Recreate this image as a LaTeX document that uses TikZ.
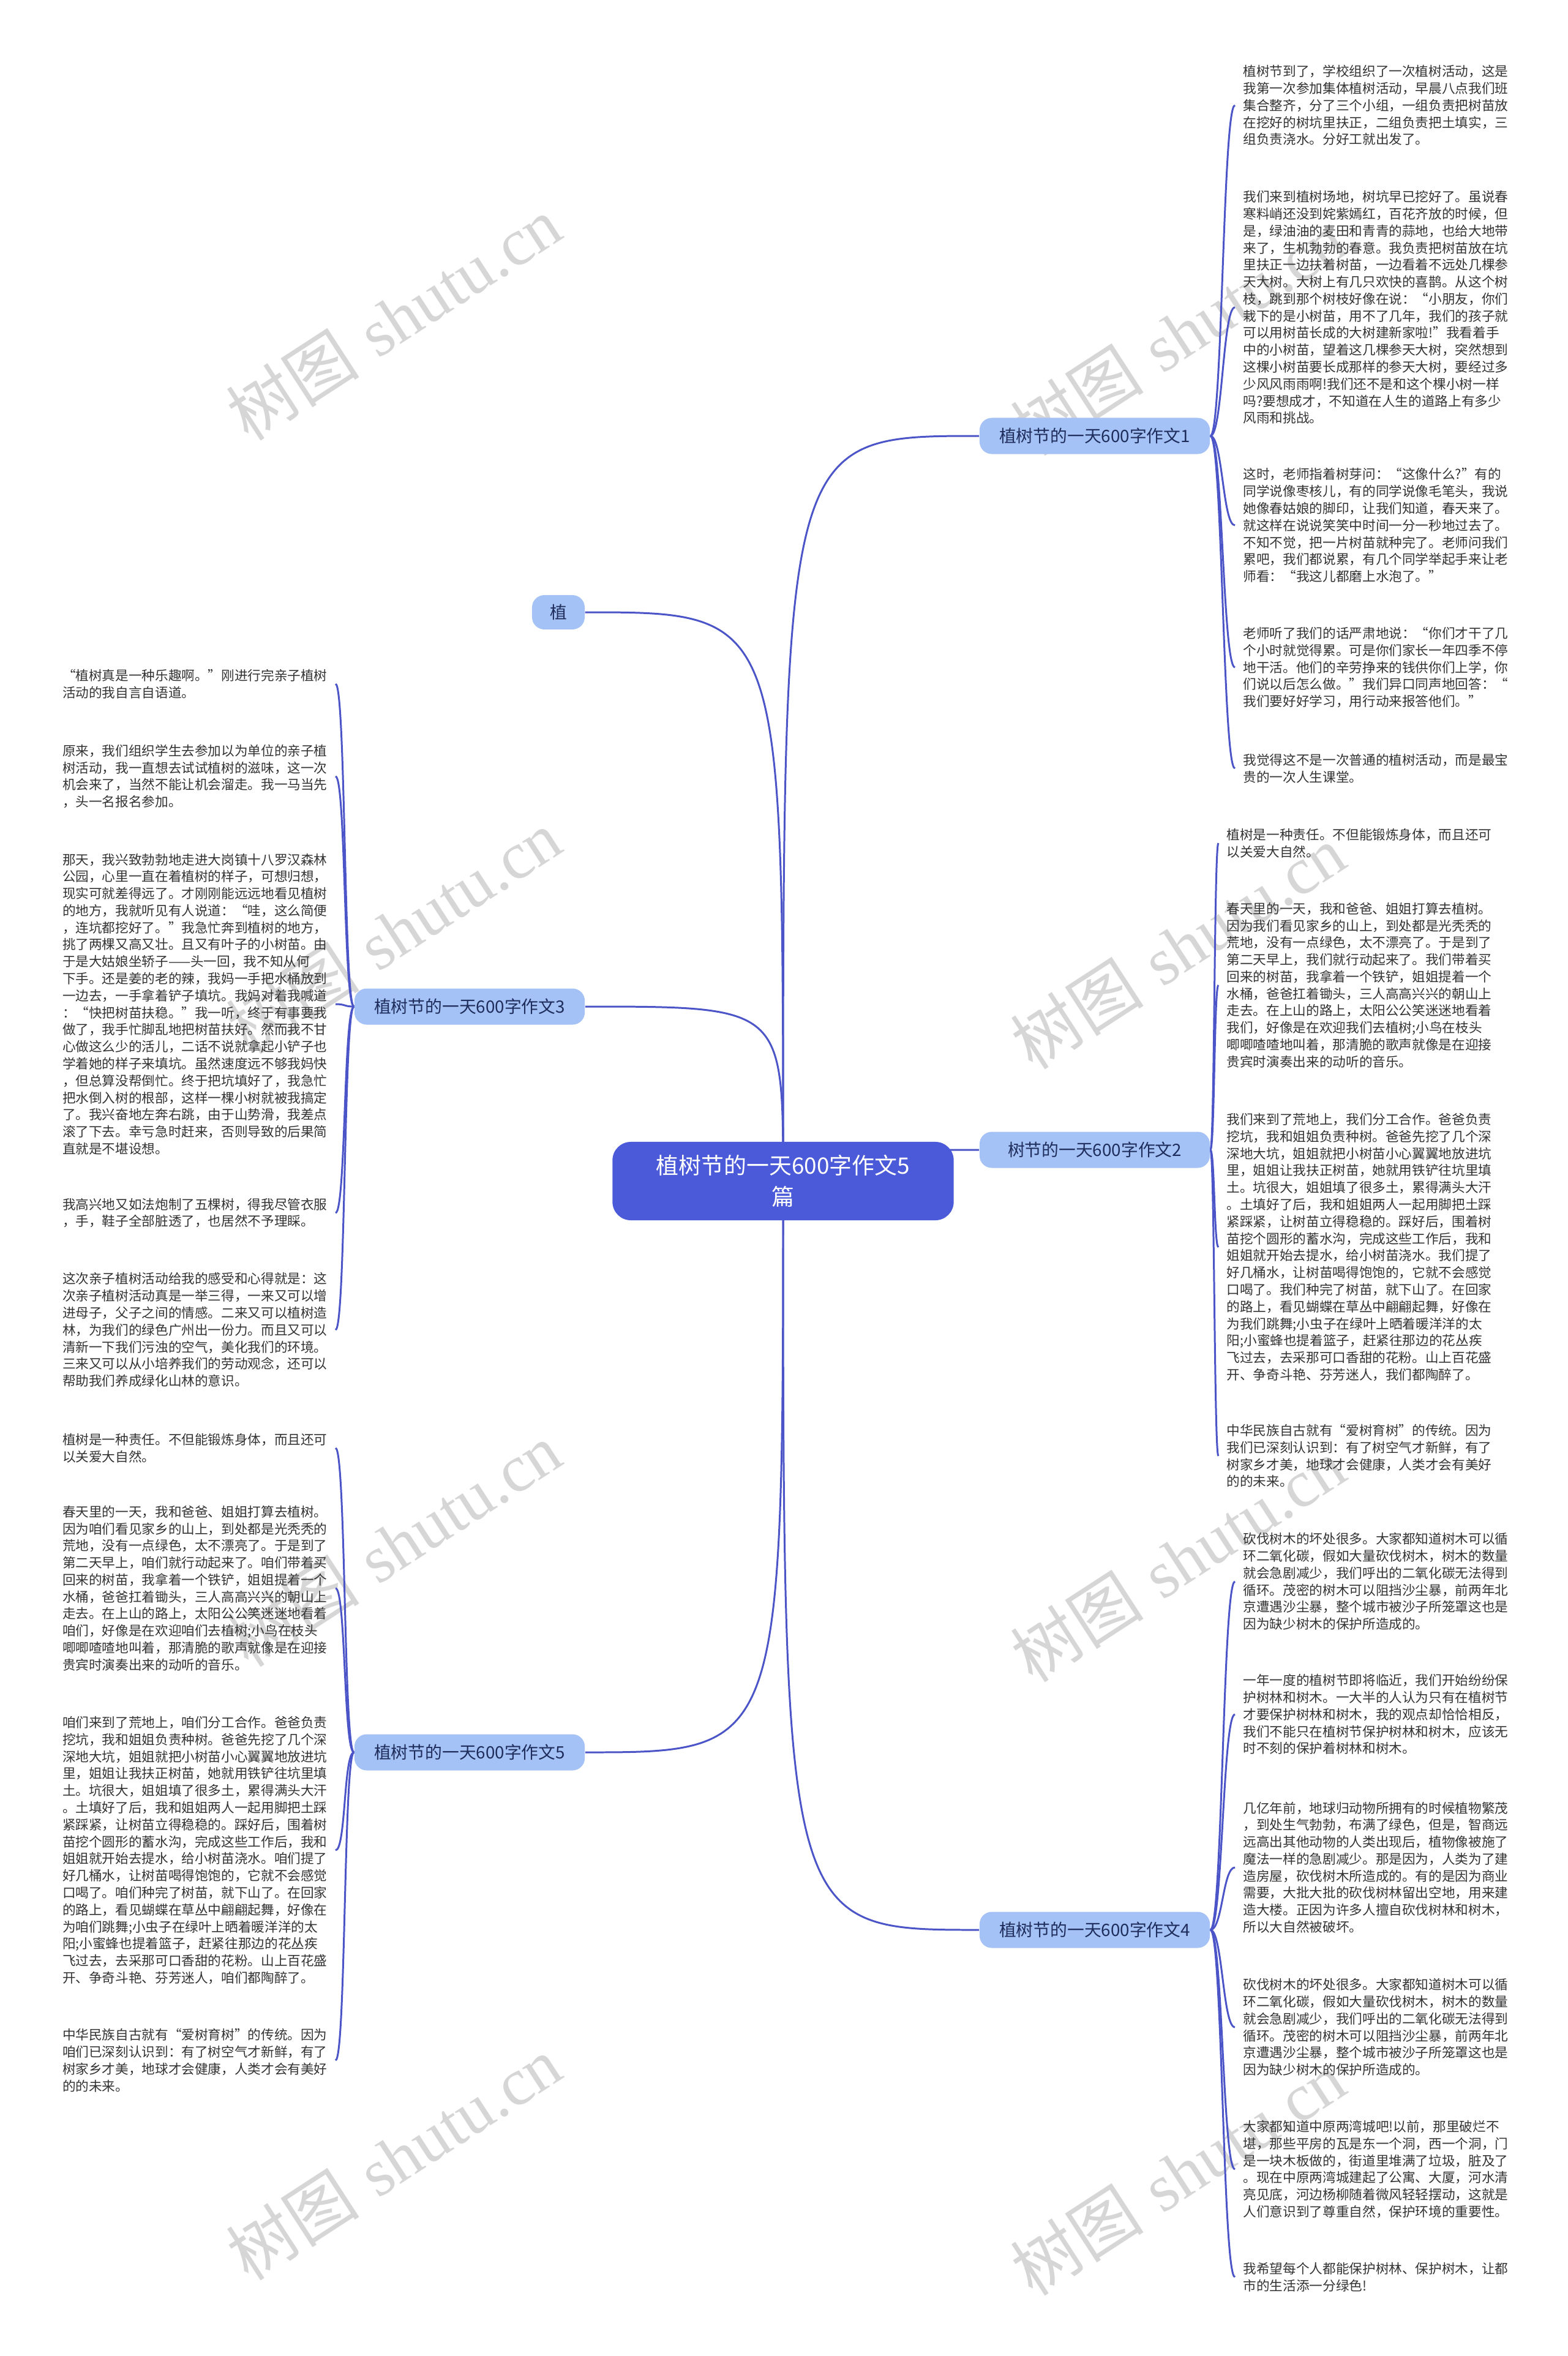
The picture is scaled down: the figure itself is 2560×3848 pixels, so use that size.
\documentclass[tikz,border=0pt]{standalone}
\usepackage{fontspec}
\newfontfamily\cjk{Noto Sans CJK SC}
\newfontfamily\wmserif{Liberation Serif}
\usetikzlibrary{backgrounds}
\definecolor{rootblue}{HTML}{4A5AD8}
\definecolor{topicfill}{HTML}{A4C2F5}
\definecolor{topictext}{HTML}{1F2D5C}
\definecolor{linkblue}{HTML}{4B55C8}
\definecolor{bodytext}{HTML}{333333}

\begin{document}
\begin{tikzpicture}[x=0.01cm,y=-0.01cm,
  root/.style={fill=rootblue,text=white,rounded corners=0.3cm,minimum width=5.57cm,minimum height=1.28cm,
    align=center,inner sep=0pt,font=\cjk\fontsize{10.5pt}{14.6pt}\selectfont},
  topic/.style={fill=topicfill,text=topictext,rounded corners=0.2cm,minimum width=3.76cm,minimum height=0.59cm,
    inner sep=0pt,font=\cjk\fontsize{7.9pt}{9pt}\selectfont},
  para/.style={text=bodytext,text width=4.32cm,align=left,inner xsep=0.13cm,inner ysep=0pt,
    font=\cjk\fontsize{6.15pt}{7.9pt}\selectfont},
  link/.style={draw=linkblue,line width=0.85pt},
  wmark/.style={text=black!16,rotate=33,font=\fontsize{31pt}{31pt}\selectfont}]
\useasboundingbox (0,0) rectangle (2560,3848);

% root and topics
\node[root] (root) at (1279,1929) {植树节的一天600字作文5\\篇};
\node[topic,minimum width=0.86cm,minimum height=0.56cm] (zhi) at (912,1000) {植};
\node[topic] (t1) at (1788,712) {植树节的一天600字作文1};
\node[topic] (t2) at (1788,1878) {树节的一天600字作文2};
\node[topic] (t3) at (767,1644) {植树节的一天600字作文3};
\node[topic] (t4) at (1788,3152) {植树节的一天600字作文4};
\node[topic] (t5) at (767,2862) {植树节的一天600字作文5};

% essay 1
\node[para,anchor=west] (r1a) at (2017,172) {植树节到了，学校组织了一次植树活动，这是\\我第一次参加集体植树活动，早晨八点我们班\\集合整齐，分了三个小组，一组负责把树苗放\\在挖好的树坑里扶正，二组负责把土填实，三\\组负责浇水。分好工就出发了。};
\node[para,anchor=west] (r1b) at (2017,502) {我们来到植树场地，树坑早已挖好了。虽说春\\寒料峭还没到姹紫嫣红，百花齐放的时候，但\\是，绿油油的麦田和青青的蒜地，也给大地带\\来了，生机勃勃的春意。我负责把树苗放在坑\\里扶正一边扶着树苗，一边看着不远处几棵参\\天大树。大树上有几只欢快的喜鹊。从这个树\\枝，跳到那个树枝好像在说：“小朋友，你们\\栽下的是小树苗，用不了几年，我们的孩子就\\可以用树苗长成的大树建新家啦!”我看着手\\中的小树苗，望着这几棵参天大树，突然想到\\这棵小树苗要长成那样的参天大树，要经过多\\少风风雨雨啊!我们还不是和这个棵小树一样\\吗?要想成才，不知道在人生的道路上有多少\\风雨和挑战。};
\node[para,anchor=west] (r1c) at (2017,858) {这时，老师指着树芽问：“这像什么?”有的\\同学说像枣核儿，有的同学说像毛笔头，我说\\她像春姑娘的脚印，让我们知道，春天来了。\\就这样在说说笑笑中时间一分一秒地过去了。\\不知不觉，把一片树苗就种完了。老师问我们\\累吧，我们都说累，有几个同学举起手来让老\\师看：“我这儿都磨上水泡了。”};
\node[para,anchor=west] (r1d) at (2017,1090) {老师听了我们的话严肃地说：“你们才干了几\\个小时就觉得累。可是你们家长一年四季不停\\地干活。他们的辛劳挣来的钱供你们上学，你\\们说以后怎么做。”我们异口同声地回答：“\\我们要好好学习，用行动来报答他们。”};
\node[para,anchor=west] (r1e) at (2017,1255) {我觉得这不是一次普通的植树活动，而是最宝\\贵的一次人生课堂。};

% essay 2
\node[para,anchor=west] (r2a) at (1990,1377) {植树是一种责任。不但能锻炼身体，而且还可\\以关爱大自然。};
\node[para,anchor=west] (r2b) at (1990,1609) {春天里的一天，我和爸爸、姐姐打算去植树。\\因为我们看见家乡的山上，到处都是光秃秃的\\荒地，没有一点绿色，太不漂亮了。于是到了\\第二天早上，我们就行动起来了。我们带着买\\回来的树苗，我拿着一个铁铲，姐姐提着一个\\水桶，爸爸扛着锄头，三人高高兴兴的朝山上\\走去。在上山的路上，太阳公公笑迷迷地看着\\我们，好像是在欢迎我们去植树;小鸟在枝头\\唧唧喳喳地叫着，那清脆的歌声就像是在迎接\\贵宾时演奏出来的动听的音乐。};
\node[para,anchor=west] (r2c) at (1990,2037) {我们来到了荒地上，我们分工合作。爸爸负责\\挖坑，我和姐姐负责种树。爸爸先挖了几个深\\深地大坑，姐姐就把小树苗小心翼翼地放进坑\\里，姐姐让我扶正树苗，她就用铁铲往坑里填\\土。坑很大，姐姐填了很多土，累得满头大汗\\。土填好了后，我和姐姐两人一起用脚把土踩\\紧踩紧，让树苗立得稳稳的。踩好后，围着树\\苗挖个圆形的蓄水沟，完成这些工作后，我和\\姐姐就开始去提水，给小树苗浇水。我们提了\\好几桶水，让树苗喝得饱饱的，它就不会感觉\\口喝了。我们种完了树苗，就下山了。在回家\\的路上，看见蝴蝶在草丛中翩翩起舞，好像在\\为我们跳舞;小虫子在绿叶上晒着暖洋洋的太\\阳;小蜜蜂也提着篮子，赶紧往那边的花丛疾\\飞过去，去采那可口香甜的花粉。山上百花盛\\开、争奇斗艳、芬芳迷人，我们都陶醉了。};
\node[para,anchor=west] (r2d) at (1990,2378) {中华民族自古就有“爱树育树”的传统。因为\\我们已深刻认识到：有了树空气才新鲜，有了\\树家乡才美，地球才会健康，人类才会有美好\\的的未来。};

% essay 4
\node[para,anchor=west] (r4a) at (2017,2583) {砍伐树木的坏处很多。大家都知道树木可以循\\环二氧化碳，假如大量砍伐树木，树木的数量\\就会急剧减少，我们呼出的二氧化碳无法得到\\循环。茂密的树木可以阻挡沙尘暴，前两年北\\京遭遇沙尘暴，整个城市被沙子所笼罩这也是\\因为缺少树木的保护所造成的。};
\node[para,anchor=west] (r4b) at (2017,2800) {一年一度的植树节即将临近，我们开始纷纷保\\护树林和树木。一大半的人认为只有在植树节\\才要保护树林和树木，我的观点却恰恰相反，\\我们不能只在植树节保护树林和树木，应该无\\时不刻的保护着树林和树木。};
\node[para,anchor=west] (r4c) at (2017,3050) {几亿年前，地球归动物所拥有的时候植物繁茂\\，到处生气勃勃，布满了绿色，但是，智商远\\远高出其他动物的人类出现后，植物像被施了\\魔法一样的急剧减少。那是因为，人类为了建\\造房屋，砍伐树木所造成的。有的是因为商业\\需要，大批大批的砍伐树林留出空地，用来建\\造大楼。正因为许多人擅自砍伐树林和树木，\\所以大自然被破坏。};
\node[para,anchor=west] (r4d) at (2017,3311) {砍伐树木的坏处很多。大家都知道树木可以循\\环二氧化碳，假如大量砍伐树木，树木的数量\\就会急剧减少，我们呼出的二氧化碳无法得到\\循环。茂密的树木可以阻挡沙尘暴，前两年北\\京遭遇沙尘暴，整个城市被沙子所笼罩这也是\\因为缺少树木的保护所造成的。};
\node[para,anchor=west] (r4e) at (2017,3543) {大家都知道中原两湾城吧!以前，那里破烂不\\堪，那些平房的瓦是东一个洞，西一个洞，门\\是一块木板做的，街道里堆满了垃圾，脏及了\\。现在中原两湾城建起了公寓、大厦，河水清\\亮见底，河边杨柳随着微风轻轻摆动，这就是\\人们意识到了尊重自然，保护环境的重要性。};
\node[para,anchor=west] (r4f) at (2017,3719) {我希望每个人都能保护树林、保护树木，让都\\市的生活添一分绿色!};

% essay 3
\node[para,anchor=east] (l3a) at (548,1117) {“植树真是一种乐趣啊。”刚进行完亲子植树\\活动的我自言自语道。};
\node[para,anchor=east] (l3b) at (548,1268) {原来，我们组织学生去参加以为单位的亲子植\\树活动，我一直想去试试植树的滋味，这一次\\机会来了，当然不能让机会溜走。我一马当先\\，头一名报名参加。};
\node[para,anchor=east] (l3c) at (548,1640) {那天，我兴致勃勃地走进大岗镇十八罗汉森林\\公园，心里一直在着植树的样子，可想归想，\\现实可就差得远了。才刚刚能远远地看见植树\\的地方，我就听见有人说道：“哇，这么简便\\，连坑都挖好了。”我急忙奔到植树的地方，\\挑了两棵又高又壮。且又有叶子的小树苗。由\\于是大姑娘坐轿子——头一回，我不知从何\\下手。还是姜的老的辣，我妈一手把水桶放到\\一边去，一手拿着铲子填坑。我妈对着我喊道\\：“快把树苗扶稳。”我一听，终于有事要我\\做了，我手忙脚乱地把树苗扶好。然而我不甘\\心做这么少的活儿，二话不说就拿起小铲子也\\学着她的样子来填坑。虽然速度远不够我妈快\\，但总算没帮倒忙。终于把坑填好了，我急忙\\把水倒入树的根部，这样一棵小树就被我搞定\\了。我兴奋地左奔右跳，由于山势滑，我差点\\滚了下去。幸亏急时赶来，否则导致的后果简\\直就是不堪设想。};
\node[para,anchor=east] (l3d) at (548,1981) {我高兴地又如法炮制了五棵树，得我尽管衣服\\，手，鞋子全部脏透了，也居然不予理睬。};
\node[para,anchor=east] (l3e) at (548,2172) {这次亲子植树活动给我的感受和心得就是：这\\次亲子植树活动真是一举三得，一来又可以增\\进母子，父子之间的情感。二来又可以植树造\\林，为我们的绿色广州出一份力。而且又可以\\清新一下我们污浊的空气，美化我们的环境。\\三来又可以从小培养我们的劳动观念，还可以\\帮助我们养成绿化山林的意识。};

% essay 5
\node[para,anchor=east] (l5a) at (548,2365) {植树是一种责任。不但能锻炼身体，而且还可\\以关爱大自然。};
\node[para,anchor=east] (l5b) at (548,2594) {春天里的一天，我和爸爸、姐姐打算去植树。\\因为咱们看见家乡的山上，到处都是光秃秃的\\荒地，没有一点绿色，太不漂亮了。于是到了\\第二天早上，咱们就行动起来了。咱们带着买\\回来的树苗，我拿着一个铁铲，姐姐提着一个\\水桶，爸爸扛着锄头，三人高高兴兴的朝山上\\走去。在上山的路上，太阳公公笑迷迷地看着\\咱们，好像是在欢迎咱们去植树;小鸟在枝头\\唧唧喳喳地叫着，那清脆的歌声就像是在迎接\\贵宾时演奏出来的动听的音乐。};
\node[para,anchor=east] (l5c) at (548,3022) {咱们来到了荒地上，咱们分工合作。爸爸负责\\挖坑，我和姐姐负责种树。爸爸先挖了几个深\\深地大坑，姐姐就把小树苗小心翼翼地放进坑\\里，姐姐让我扶正树苗，她就用铁铲往坑里填\\土。坑很大，姐姐填了很多土，累得满头大汗\\。土填好了后，我和姐姐两人一起用脚把土踩\\紧踩紧，让树苗立得稳稳的。踩好后，围着树\\苗挖个圆形的蓄水沟，完成这些工作后，我和\\姐姐就开始去提水，给小树苗浇水。咱们提了\\好几桶水，让树苗喝得饱饱的，它就不会感觉\\口喝了。咱们种完了树苗，就下山了。在回家\\的路上，看见蝴蝶在草丛中翩翩起舞，好像在\\为咱们跳舞;小虫子在绿叶上晒着暖洋洋的太\\阳;小蜜蜂也提着篮子，赶紧往那边的花丛疾\\飞过去，去采那可口香甜的花粉。山上百花盛\\开、争奇斗艳、芬芳迷人，咱们都陶醉了。};
\node[para,anchor=east] (l5d) at (548,3365) {中华民族自古就有“爱树育树”的传统。因为\\咱们已深刻认识到：有了树空气才新鲜，有了\\树家乡才美，地球才会健康，人类才会有美好\\的的未来。};

\begin{scope}[on background layer]
% watermarks
\foreach \wy [count=\i] in {520,1522,2523,3525}{
  \node[wmark] (wl\i) at (643,\wy) {{\cjk 树图} {\wmserif shutu.cn}};
  \node[wmark] (wr\i) at (1924,\wy+25) {{\cjk 树图} {\wmserif shutu.cn}};
}
% root to topics
\foreach \t in {t1,t2,t4}
  \draw[link] (root.center) .. controls (root.center |- \t.west) and (root.center |- \t.west) .. (\t.west);
\foreach \t in {zhi,t3,t5}
  \draw[link] (root.center) .. controls (root.center |- \t.east) and (root.center |- \t.east) .. (\t.east);
% topics to paragraphs
\foreach \p in {r1a,r1b,r1c,r1d,r1e}
  \draw[link] (t1.east) .. controls +(20,0) and +(-20,0) .. (\p.west);
\foreach \p in {r2a,r2b,r2c,r2d}
  \draw[link] (t2.east) .. controls +(7,0) and +(-7,0) .. (\p.west);
\foreach \p in {r4a,r4b,r4c,r4d,r4e,r4f}
  \draw[link] (t4.east) .. controls +(20,0) and +(-20,0) .. (\p.west);
\foreach \p in {l3a,l3b,l3c,l3d,l3e}
  \draw[link] (t3.west) .. controls +(-17,0) and +(17,0) .. (\p.east);
\foreach \p in {l5a,l5b,l5c,l5d}
  \draw[link] (t5.west) .. controls +(-17,0) and +(17,0) .. (\p.east);
\end{scope}
\end{tikzpicture}
\end{document}
